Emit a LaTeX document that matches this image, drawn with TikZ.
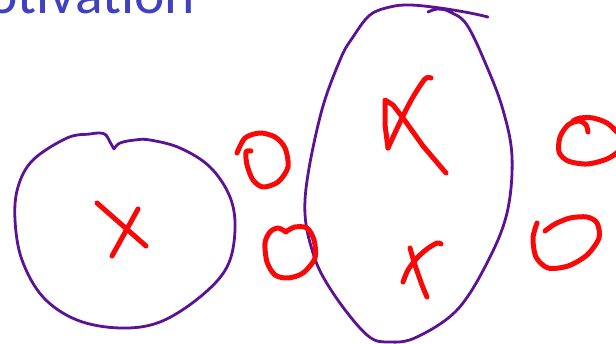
\documentclass[tikz,border=0pt]{standalone}
\usepackage{fontspec}
\newfontfamily\titlefont{Carlito}
\definecolor{penpurple}{RGB}{92,18,148}
\definecolor{penred}{RGB}{250,8,8}
\definecolor{titleblue}{RGB}{64,64,192}
\begin{document}
\begin{tikzpicture}[x=1pt,y=-1pt,
  purp/.style={draw=penpurple, line width=2.8pt, line cap=round, line join=round},
  ink/.style={draw=penred, line width=5pt, line cap=round, line join=round}]
\useasboundingbox (0,0) rectangle (616,344);
\clip (0,0) rectangle (616,344);
% title
\node[anchor=base west, inner sep=0pt, text=titleblue, font=\titlefont\fontsize{57.7}{60}\selectfont] (title) at (-13,14) {otivation};
% left circle
\draw[purp] plot[smooth, tension=0.6] coordinates {(114,149) (120,143) (135,140) (150,140) (180,148) (210,167) (230,197) (235,230) (227,267) (200,297) (160,322) (120,328) (77,320) (43,297) (22,260) (15,220) (18,187) (33,160) (67,138) (90,134) (100,133) (106,135) (110,142) (114,149)};
% big ellipse
\draw[purp] plot[smooth, tension=0.6] coordinates {(488,17) (470,13) (440,8) (410,5) (390,7) (370,15) (353,37) (340,60) (320,117) (305,200) (313,253) (333,293) (367,335) (390,342) (417,337) (457,310) (487,263) (507,213) (512,157) (503,110) (487,67) (467,25) (450,12) (438,9) (428,12)};
% left X
\draw[ink] (97,203) -- (146,246);
\draw[ink] (138,209) -- (112,256);
% O1
\draw[ink] plot[smooth] coordinates {(251,151) (246,152) (247,165) (253,180) (263,187) (278,182) (288,167) (285,148) (275,137) (260,133) (245,138) (237,153)};
% O2
\draw[ink] plot[smooth] coordinates {(286,232) (278,228) (270,232) (265,243) (267,262) (275,275) (288,278) (303,273) (315,258) (314,240) (307,228) (295,227) (287,231)};
% K-like X
\draw[ink] plot[smooth] coordinates {(431,78) (425,79) (413,97) (402,118) (388,148)};
\draw[ink] (388,148) -- (385,125) -- (385,100) -- (393,105) -- (403,118) -- (423,146) -- (446,173);
% small x
\draw[ink] plot[smooth] coordinates {(441,244) (437,243) (427,249) (417,258) (408,270) (403,282)};
\draw[ink] plot[smooth] coordinates {(410,248) (415,265) (422,285) (427,297)};
% O3
\draw[ink] plot[smooth] coordinates {(588,132) (586,125) (579,121) (568,125) (560,137) (559,152) (568,161) (587,164) (607,159) (620,150) (625,140) (618,133) (607,123) (593,118) (580,118) (573,121)};
% O4
\draw[ink] plot[smooth] coordinates {(537,223) (533,238) (536,257) (548,268) (568,266) (587,255) (599,238) (597,223) (587,217) (570,218) (555,224) (545,231)};
\end{tikzpicture}
\end{document}
